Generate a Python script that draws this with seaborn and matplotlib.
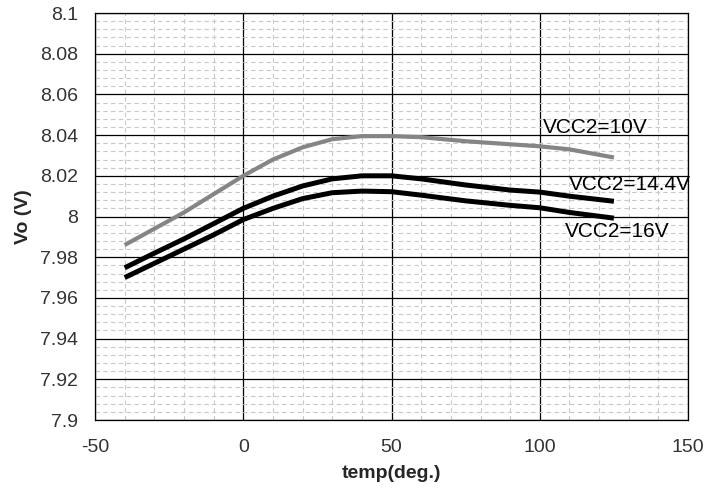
"""Vo vs temperature for three VCC2 levels"""

import numpy as np
import pandas as pd
import matplotlib
matplotlib.use("Agg")
import matplotlib.pyplot as plt
from matplotlib.ticker import MultipleLocator
import seaborn as sns

# values
temp = [-40, -30, -20, -10, 0, 10, 20, 30, 40, 50, 60, 75, 90, 100, 110, 125]
vo_10v = [7.986, 7.994, 8.002, 8.011, 8.020, 8.028, 8.034, 8.038, 8.0395, 8.0395,
          8.039, 8.037, 8.0355, 8.0345, 8.033, 8.029]
vo_14v4 = [7.9748, 7.982, 7.989, 7.9965, 8.004, 8.010, 8.015, 8.0185, 8.020, 8.020,
           8.0185, 8.0155, 8.013, 8.012, 8.010, 8.0075]
vo_16v = [7.970, 7.977, 7.984, 7.991, 7.9985, 8.004, 8.0088, 8.0117, 8.0125, 8.0122,
          8.0105, 8.0077, 8.0055, 8.0043, 8.002, 7.9992]
series_names = ["VCC2=10V", "VCC2=14.4V", "VCC2=16V"]
x_ticks = [-50, 0, 50, 100, 150]
y_ticks = [7.9, 7.92, 7.94, 7.96, 7.98, 8.0, 8.02, 8.04, 8.06, 8.08, 8.1]
y_tick_labels = ["7.9", "7.92", "7.94", "7.96", "7.98", "8", "8.02", "8.04", "8.06", "8.08", "8.1"]

df = pd.concat([
    pd.DataFrame({"temp": temp, "vo": v, "series": name})
    for v, name in zip([vo_10v, vo_14v4, vo_16v], series_names)
], ignore_index=True)

sns.set_style("white")
plt.rcParams["font.family"] = ["Liberation Sans", "DejaVu Sans"]

fig = plt.figure(figsize=(7.06, 4.93), dpi=100)
ax = fig.add_axes([0.1346, 0.148, 0.84, 0.8256])

palette = {"VCC2=10V": "#858585", "VCC2=14.4V": "#000000", "VCC2=16V": "#000000"}
widths = {"VCC2=10V": 3.0, "VCC2=14.4V": 3.6, "VCC2=16V": 3.6}

for name in series_names:
    sub = df[df["series"] == name]
    sns.lineplot(data=sub, x="temp", y="vo", color=palette[name],
                 linewidth=widths[name], ax=ax, legend=False, zorder=5,
                 solid_capstyle="butt")

ax.set_xlim(-50, 150)
ax.set_ylim(7.9, 8.1)
ax.set_xticks(x_ticks)
ax.set_xticklabels([str(t) for t in x_ticks])
ax.set_yticks(y_ticks)
ax.set_yticklabels(y_tick_labels)
ax.xaxis.set_minor_locator(MultipleLocator(10))
ax.yaxis.set_minor_locator(MultipleLocator(0.004))

# grid: dashed light minor, solid black major
ax.grid(which="minor", color="#c8c8c8", linestyle=(0, (4, 3)), linewidth=0.8)
ax.grid(which="major", color="black", linestyle="-", linewidth=0.9)
ax.set_axisbelow(True)

for sp in ax.spines.values():
    sp.set_visible(True)
    sp.set_color("black")
    sp.set_linewidth(0.9)

ax.tick_params(axis="both", which="major", direction="out", length=6, width=0.9,
               labelsize=14, colors="black", pad=6)
ax.tick_params(axis="x", which="minor", direction="in", length=3, width=0.6, colors="#555555")
ax.tick_params(axis="y", which="minor", length=0)
ax.tick_params(axis="x", which="major", pad=8)
for lbl in ax.get_xticklabels() + ax.get_yticklabels():
    lbl.set_color("#333333")

ax.set_xlabel("temp(deg.)", fontsize=14, fontweight="bold", labelpad=6)
ax.set_ylabel("Vo (V)", fontsize=14, fontweight="bold", labelpad=6)

# series labels next to the line ends
label_pos = [(101.1, 8.0435), (109.9, 8.0155), (108.5, 7.9924)]
for name, (lx, ly) in zip(series_names, label_pos):
    ax.text(lx, ly, name, fontsize=15, color="black", ha="left", va="center", zorder=6)

fig.savefig("out.png", dpi=100)
